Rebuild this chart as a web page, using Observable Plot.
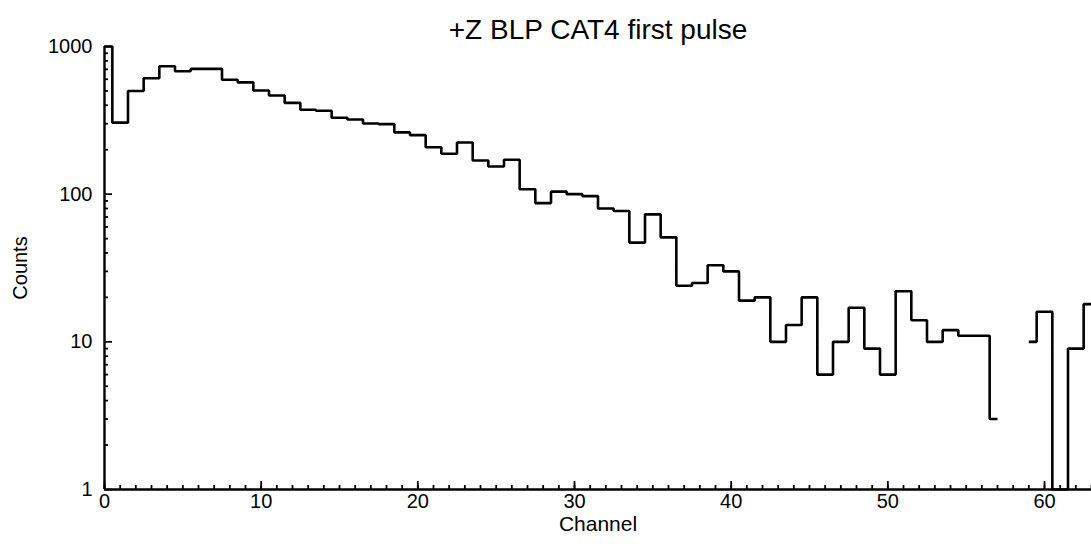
<!DOCTYPE html>
<html>
<head>
<meta charset="utf-8">
<script src="https://cdn.jsdelivr.net/npm/d3@7"></script>
<script src="https://cdn.jsdelivr.net/npm/@observablehq/plot@0.6"></script>
<style>
  html, body { margin: 0; padding: 0; background: #ffffff; }
  #chart svg { display: block; }
</style>
</head>
<body>
<div id="chart"></div>
<script>
// Channel numbers (bin centres)
const channels = d3.range(0, 64);
// Counts per channel (NaN = no value drawn, 0 = empty channel)
const counts = [
  1000, 305, 500, 610, 735, 680, 705, 705, 595, 572,
  504, 466, 415, 373, 367, 329, 320, 301, 298, 262,
  251, 208, 188, 224, 169, 154, 171, 108, 87, 104,
  100, 97, 80, 77, 47, 73, 51, 24, 25, 33,
  30, 19, 20, 10, 13, 20, 6, 10, 17, 9,
  6, 22, 14, 10, 12, 11, 11, 3, NaN, 10,
  16, 0, 9, 18
];
const xTickLabels = [0, 10, 20, 30, 40, 50, 60];
const xMinorTicks = d3.range(0, 64);
const yTickLabels = [1, 10, 100, 1000];
const yMinorTicks = [2,3,4,5,6,7,8,9,20,30,40,50,60,70,80,90,200,300,400,500,600,700,800,900];

const titleText = "+Z BLP CAT4 first pulse";
const xLabel = "Channel";
const yLabel = "Counts";

const data = channels.map((c, i) => ({channel: c, count: counts[i]}));

const W = 1091, H = 544;
const mT = 46, mB = 55, mL = 104, mR = 0;
const innerW = W - mL - mR, innerH = H - mT - mB;
const font = "'Liberation Sans', Arial, Helvetica, sans-serif";

const chart = Plot.plot({
  width: W,
  height: H,
  marginTop: mT,
  marginBottom: mB,
  marginLeft: mL,
  marginRight: mR,
  style: {fontFamily: font, background: "#ffffff", color: "#000"},
  x: {domain: [0, 63]},
  y: {type: "log", domain: [1, 1000]},
  marks: [
    // histogram (step) line
    Plot.line(data, {
      x: "channel",
      y: d => Math.max(d.count, 1),
      curve: "step",
      stroke: "#000",
      strokeWidth: 2.6,
      strokeLinejoin: "miter",
      strokeLinecap: "butt"
    }),
    // x minor / major ticks (pointing inward)
    Plot.ruleX(xMinorTicks, {x: d => d, stroke: "#000", strokeWidth: 1.8, insetTop: innerH - 4}),
    Plot.ruleX(xTickLabels, {x: d => d, stroke: "#000", strokeWidth: 1.8, insetTop: innerH - 8}),
    // y minor / major ticks
    Plot.ruleY(yMinorTicks, {y: d => d, stroke: "#000", strokeWidth: 1.8, insetRight: innerW - 4}),
    Plot.ruleY(yTickLabels, {y: d => d, stroke: "#000", strokeWidth: 1.8, insetRight: innerW - 8}),
    // axis lines
    Plot.ruleX([0], {stroke: "#000", strokeWidth: 2.4}),
    Plot.ruleY([1], {stroke: "#000", strokeWidth: 2.4}),
    // tick labels
    Plot.axisX({ticks: xTickLabels, tickSize: 0, tickPadding: 4, fontSize: 20, label: null, tickFormat: d => String(d)}),
    Plot.axisY({ticks: yTickLabels, tickSize: 0, tickPadding: 12, fontSize: 20, label: null, tickFormat: d => String(d)}),
    // axis titles and title
    Plot.text([xLabel], {frameAnchor: "bottom", lineAnchor: "middle", dy: 35, fontSize: 21, text: d => d, fill: "#000"}),
    Plot.text([yLabel], {frameAnchor: "left", textAnchor: "middle", lineAnchor: "middle", dx: -84, rotate: -90, fontSize: 20, text: d => d, fill: "#000"}),
    Plot.text([titleText], {frameAnchor: "top", lineAnchor: "middle", dy: -16, fontSize: 28, text: d => d, fill: "#000"})
  ]
});
document.getElementById("chart").appendChild(chart);
</script>
</body>
</html>
